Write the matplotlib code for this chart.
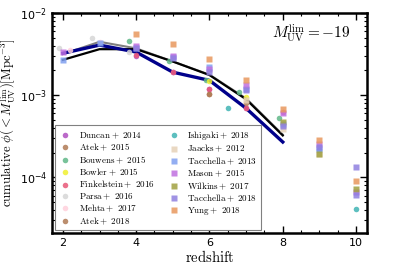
import numpy as np
import matplotlib
matplotlib.use("Agg")
import matplotlib.pyplot as plt
from matplotlib.ticker import LogLocator, MultipleLocator

plt.rcParams['mathtext.fontset'] = 'cm'
plt.rcParams['font.family'] = 'DejaVu Sans'

# model curves (log10 of cumulative phi)
z_model = [2, 3, 4, 5, 6, 7, 8]
grey_model = [-2.50, -2.35, -2.43, -2.59, -2.75, -3.04, -3.48]
black_model = [-2.57, -2.44, -2.44, -2.59, -2.755, -3.05, -3.49]
blue_model = [-2.49, -2.39, -2.475, -2.72, -2.82, -3.16, -3.57]

# observations: circles
duncan_z = [4, 5, 6, 7]
duncan_v = [-2.52, -2.72, -2.92, -3.15]
atek15_z = [6, 7]
atek15_v = [-2.98, -3.10]
bouwens_z = [3.8, 4.9, 5.9, 6.8, 7.9]
bouwens_v = [-2.34, -2.58, -2.81, -2.96, -3.28]
bowler_z = [6, 7]
bowler_v = [-2.83, -3.02]
finkel_z = [4, 5, 6, 7, 8]
finkel_v = [-2.51, -2.72, -2.93, -3.15, -3.20]
parsa_z = [1.9, 2.8, 3.8]
parsa_v = [-2.43, -2.30, -2.47]
mehta_z = [2.2, 3.0]
mehta_v = [-2.45, -2.35]
atek18_z = [6]
atek18_v = [-2.98]
ishigaki_z = [6.5, 9, 10]
ishigaki_v = [-3.16, -3.67, -4.38]

# observations / models: squares
jaacks_z = [7, 8, 9]
jaacks_v = [-3.06, -3.41, -3.72]
tacc13_z = [2, 3, 4, 5, 6, 7, 8, 9]
tacc13_v = [-2.57, -2.37, -2.42, -2.53, -2.66, -2.93, -3.35, -3.65]
mason_z = [2, 4, 5, 6, 7, 8, 9, 10]
mason_v = [-2.47, -2.40, -2.52, -2.68, -2.88, -3.22, -3.60, -4.18]
wilkins_z = [8, 9, 10]
wilkins_v = [-3.33, -3.72, -4.14]
tacc18_z = [4, 5, 6, 7, 8, 9, 10, 10]
tacc18_v = [-2.42, -2.55, -2.72, -2.94, -3.37, -3.63, -3.87, -4.21]
yung_z = [4, 5, 6, 7, 8, 9, 10]
yung_v = [-2.25, -2.38, -2.56, -2.82, -3.17, -3.55, -4.045]

fig = plt.figure(figsize=(3.99, 2.66), dpi=100)
ax = fig.add_axes([0.130, 0.124, 0.790, 0.827])

circles = [
    ('Duncan+\\ 2014', duncan_z, duncan_v, '#b050c0'),
    ('Atek+\\ 2015', atek15_z, atek15_v, '#b07a55'),
    ('Bouwens+\\ 2015', bouwens_z, bouwens_v, '#60b888'),
    ('Bowler+\\ 2015', bowler_z, bowler_v, '#f0f030'),
    ('Finkelstein+\\ 2016', finkel_z, finkel_v, '#e85878'),
    ('Parsa+\\ 2016', parsa_z, parsa_v, '#d6d6d6'),
    ('Mehta+\\ 2017', mehta_z, mehta_v, '#ffd0dc'),
    ('Atek+\\ 2018', atek18_z, atek18_v, '#b07a55'),
]
squares = [
    ('Ishigaki+\\ 2018', ishigaki_z, ishigaki_v, '#40b4b4', 'o'),
    ('Jaacks+\\ 2012', jaacks_z, jaacks_v, '#e6d2b8', 's'),
    ('Tacchella+\\ 2013', tacc13_z, tacc13_v, '#80a0f0', 's'),
    ('Mason+\\ 2015', mason_z, mason_v, '#c070e0', 's'),
    ('Wilkins+\\ 2017', wilkins_z, wilkins_v, '#a0a040', 's'),
    ('Tacchella+\\ 2018', tacc18_z, tacc18_v, '#9080e0', 's'),
    ('Yung+\\ 2018', yung_z, yung_v, '#e8985e', 's'),
]

ax.plot(z_model, 10**np.array(grey_model), color='grey', lw=1.5, zorder=2)
ax.plot(z_model, 10**np.array(black_model), color='black', lw=1.6, zorder=3)
ax.plot(z_model, 10**np.array(blue_model), color='#00008b', lw=2.4, zorder=4)

for lab, zz, vv, c in circles:
    ax.plot(zz, 10**np.array(vv), 'o', color=c, ms=4, alpha=0.85, mec='none',
            label=r'$\mathrm{%s}$' % lab, zorder=5)
for lab, zz, vv, c, m in squares:
    ax.plot(zz, 10**np.array(vv), m, color=c, ms=4, alpha=0.85, mec='none',
            label=r'$\mathrm{%s}$' % lab, zorder=5)

ax.set_yscale('log')
ax.set_xlim(1.7, 10.3)
ax.set_ylim(2.1e-5, 1e-2)
ax.xaxis.set_major_locator(MultipleLocator(2))
ax.xaxis.set_minor_locator(MultipleLocator(0.5))
ax.yaxis.set_minor_locator(LogLocator(base=10, subs=np.arange(2, 10), numticks=20))
ax.tick_params(which='both', direction='in', top=True, right=True, labelsize=8)
ax.tick_params(which='major', length=5, width=1.0)
ax.tick_params(which='minor', length=2.5, width=0.8)
for s in ax.spines.values():
    s.set_linewidth(1.8)

ax.set_xlabel(r'$\mathrm{redshift}$', fontsize=10.5, labelpad=1)
ax.set_ylabel(r'$\mathrm{cumulative}\ \phi(<M_{\rm UV}^{\rm lim})[\rm Mpc^{-3}]$',
              fontsize=9.2, labelpad=1)
ax.text(0.945, 0.905, r'$M_{\rm UV}^{\rm lim}=-19$', transform=ax.transAxes,
        ha='right', va='center', fontsize=11)

leg = ax.legend(loc='lower left', ncol=2, fontsize=6.5, frameon=True, fancybox=False,
                edgecolor='grey', framealpha=1, handlelength=1.6, handletextpad=0.7,
                columnspacing=1.3, labelspacing=0.12, borderaxespad=0.3,
                borderpad=0.4, bbox_to_anchor=(0.0, 0.0))
leg.get_frame().set_linewidth(0.8)

fig.savefig('out.png', dpi=100)
